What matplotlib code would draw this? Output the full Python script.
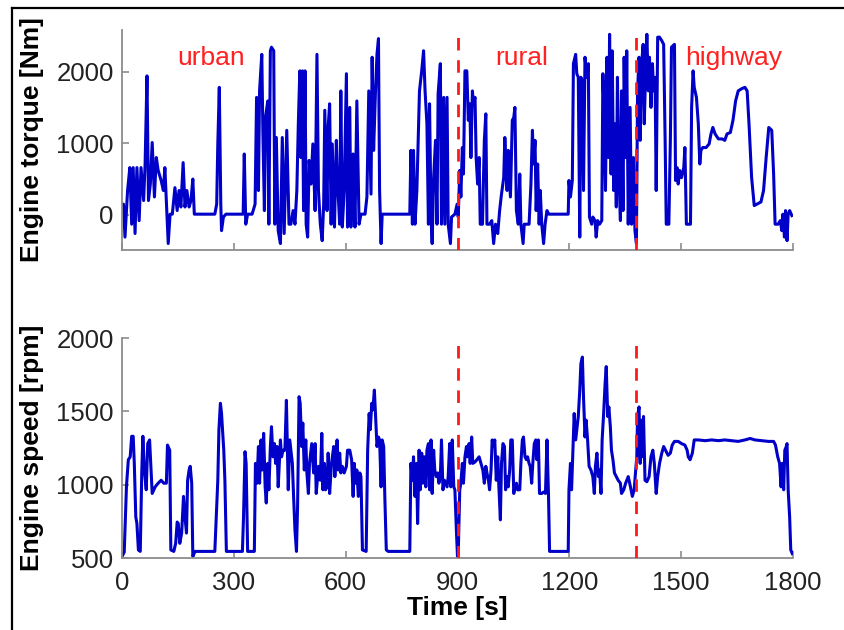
import numpy as np
import matplotlib
matplotlib.use('Agg')
import matplotlib.pyplot as plt
from matplotlib.lines import Line2D

plt.rcParams['font.family'] = ['Liberation Sans', 'DejaVu Sans']

# engine torque [Nm] over time [s]
torque_time = [0, 4, 8, 15, 21, 26, 30, 35, 40, 46, 51, 58, 62, 67, 71, 76, 81, 87, 92, 97,
               105, 111, 115, 120, 124, 129, 135, 142, 148, 153, 158, 164, 169, 174, 180, 185, 190, 194,
               249, 254, 257, 261, 265, 267, 272, 279, 325, 328, 332, 337, 349, 357, 361, 366, 369,
               375, 378, 382, 385, 391, 394, 398, 401, 407, 410, 414, 419, 425, 430, 435, 442, 448,
               453, 459, 464, 469, 473, 477, 480, 484, 487, 491, 494, 498, 502, 507, 512, 518, 523,
               527, 532, 537, 541, 544, 550, 553, 557, 561, 564, 570, 575, 578, 584, 587, 591, 596,
               602, 605, 611, 614, 620, 625, 630, 636, 641, 652, 657, 662, 668, 671, 675, 680, 684,
               688, 691, 695, 698, 772, 775, 779, 782, 786, 791, 798, 804, 809, 813, 818, 822, 825,
               829, 832, 836, 841, 845, 848, 854, 857, 863, 866, 872, 875, 881, 884, 893, 899,
               902, 906, 909, 913, 916, 920, 925, 929, 933, 936, 940, 943, 947, 950, 954, 958, 961,
               967, 972, 976, 979, 986, 992, 997, 1002, 1008, 1013, 1018, 1024, 1027, 1033, 1036,
               1042, 1047, 1051, 1054, 1058, 1063, 1067, 1070, 1076, 1079, 1092, 1097, 1101, 1104,
               1108, 1111, 1115, 1119, 1122, 1126, 1131, 1135, 1140, 1145, 1197, 1199, 1203, 1208,
               1211, 1217, 1220, 1224, 1228, 1231, 1235, 1238, 1242, 1247, 1251, 1254, 1260, 1263,
               1269, 1272, 1276, 1281, 1287, 1290, 1294, 1297, 1301, 1305, 1308, 1312, 1315, 1319,
               1322, 1326, 1329, 1333, 1337, 1340, 1344, 1347, 1351, 1354, 1358, 1363, 1367, 1372,
               1376, 1380, 1383, 1387, 1390, 1394, 1398, 1401, 1405, 1408, 1412, 1415, 1419, 1423,
               1426, 1430, 1433, 1437, 1442, 1448, 1453, 1457, 1460, 1467, 1471, 1474, 1482, 1485,
               1489, 1492, 1496, 1501, 1507, 1510, 1514, 1525, 1528, 1532, 1535, 1541, 1546, 1550,
               1553, 1558, 1567, 1575, 1580, 1585, 1591, 1600, 1610, 1617, 1623, 1632, 1639, 1646,
               1653, 1662, 1671, 1677, 1682, 1689, 1696, 1703, 1714, 1721, 1728, 1735, 1743, 1748,
               1752, 1760, 1766, 1770, 1773, 1777, 1780, 1784, 1787, 1791, 1797]
torque_nm = [100, 150, -310, 340, 660, -130, 660, -260, 660, -80, 660, 200, 710, 1940, 200, 430, 1010, 250, 800, 620,
             480, 340, 660, 60, -400, 10, 10, 380, 60, 340, 110, 730, 110, 340, 110, 200, 500, 10,
             10, 150, 990, 1780, 150, -220, -30, 10, 10, 850, -130, 10, 10, 150, 1640, 340, 1730,
             2240, 1130, 60, 1360, 1590, -130, 2290, 2340, 2290, -130, 1080, -220, -400, 1080, -260, 1180, -130,
             -130, 60, -130, 340, 1270, 2010, 800, 2010, 60, 2010, -130, -310, 760, 430, 990, 60, 2240,
             340, -130, -360, 150, 1460, 60, 1220, 1550, -130, 990, -170, 1040, 480, -130, 1730, -170, 340,
             1970, -170, 1500, -170, 850, -170, 1590, -130, 10, 10, 250, 1730, 290, 2200, 900, 1730, 2240,
             2460, 340, -400, 10, 10, 900, -130, 900, -130, 340, 1730, 2010, 2290, 1730, 1270, -130, 1550,
             -30, -400, 520, 1040, -130, 1690, 2110, -130, 1640, -130, 1640, -130, -400, -30, 10, 150,
             -30, 620, 250, 940, 570, 2010, 2010, 1320, 1550, 800, 1730, 1550, 1640, 800, 430, 800, -130,
             -130, 1040, 1410, -130, -130, -80, -400, -130, -260, 60, 290, 520, 1080, 340, 900,
             250, 1320, 1360, 1500, 60, -130, 570, -130, -400, -130, -130, 430, 1180, 710,
             1040, 60, 710, -130, 340, -130, -400, -130, 60, 10, 10, 480, 250, 480,
             2110, 2240, 1970, 1920, -310, 1920, 1870, 340, 2200, 1920, 2110, -30, -130, -30,
             -80, -310, -80, -130, -80, 1970, 1270, 340, 2200, 800, 2520, 570, 2290, 340,
             1270, 110, 1920, 570, -80, 1730, 60, 2200, 800, 2290, -130, 1500, -130, 800,
             -220, -400, 1730, 2200, 1040, 2110, 2380, 1270, 2060, 2520, 1730, 2200, 1500, 2110,
             1730, 1920, 340, 2480, 2480, 2430, 2380, 1040, -130, -130, 1040, 2340, 2380, 480,
             660, 430, 620, 520, 660, 940, -130, -130, 1500, 2010, 1780, 1640, 1270, 710,
             900, 940, 940, 990, 1130, 1220, 1130, 1060, 1060, 1040, 1130, 1150, 1320, 1590,
             1730, 1760, 1780, 1730, 1270, 520, 130, 150, 180, 340, 800, 1220, 1180, 570,
             -130, -130, -80, -220, 10, -310, 60, -360, 10, 60, -10]

# engine speed [rpm] over time [s]
speed_time = [0, 6, 12, 17, 22, 26, 30, 33, 37, 40, 44, 49, 53, 56, 60, 65, 69, 74, 78, 81,
              89, 97, 105, 112, 119, 122, 128, 131, 139, 144, 148, 151, 155, 160, 165, 169, 173, 176,
              180, 183, 187, 190, 196, 249, 253, 257, 260, 264, 267, 273, 276, 280, 323, 326, 330,
              333, 337, 355, 358, 362, 366, 369, 373, 376, 380, 384, 387, 391, 394, 398, 401, 405,
              409, 412, 416, 419, 425, 428, 432, 437, 441, 446, 450, 453, 457, 460, 464, 468, 471,
              475, 478, 482, 485, 489, 493, 496, 500, 503, 509, 514, 518, 521, 527, 532, 536, 539,
              543, 546, 550, 553, 557, 562, 568, 571, 577, 580, 584, 587, 591, 596, 602, 605, 611,
              616, 620, 623, 627, 630, 634, 638, 641, 645, 655, 659, 663, 666, 670, 673, 677, 680,
              684, 688, 691, 695, 698, 702, 705, 709, 714, 772, 775, 779, 782, 786, 790, 793, 797,
              800, 804, 807, 811, 815, 818, 822, 825, 829, 832, 836, 839, 843, 847, 850, 854, 857,
              861, 865, 868, 872, 875, 879, 882, 886, 890, 893, 897, 900, 902, 906, 909, 913, 916,
              920, 924, 927, 931, 934, 938, 941, 947, 952, 958, 963, 968, 972, 976, 979, 983, 986,
              990, 993, 997, 1000, 1004, 1008, 1011, 1015, 1018, 1022, 1026, 1029, 1033, 1036, 1040,
              1043, 1047, 1051, 1054, 1058, 1061, 1067, 1070, 1074, 1077, 1081, 1085, 1088, 1092,
              1095, 1099, 1102, 1106, 1110, 1113, 1117, 1120, 1126, 1131, 1136, 1140, 1144, 1147,
              1197, 1199, 1203, 1206, 1210, 1213, 1217, 1220, 1224, 1228, 1231, 1235, 1238, 1242,
              1245, 1249, 1253, 1258, 1263, 1267, 1270, 1274, 1278, 1281, 1285, 1288, 1292, 1296,
              1299, 1303, 1306, 1310, 1313, 1317, 1321, 1326, 1331, 1337, 1340, 1346, 1351, 1358,
              1364, 1369, 1374, 1378, 1381, 1383, 1387, 1390, 1394, 1398, 1399, 1403, 1408, 1414,
              1419, 1424, 1428, 1433, 1437, 1442, 1448, 1453, 1458, 1465, 1471, 1476, 1482, 1492,
              1501, 1510, 1516, 1519, 1524, 1530, 1535, 1546, 1564, 1582, 1600, 1617, 1635, 1653,
              1671, 1685, 1698, 1716, 1734, 1748, 1753, 1759, 1764, 1768, 1771, 1775, 1778, 1782,
              1784, 1787, 1791, 1794, 1798]
speed_rpm = [510, 540, 990, 1170, 1190, 1330, 1330, 1145, 780, 735, 555, 545, 1080, 1330, 1100, 965, 1280, 1305, 1100, 940,
             985, 1010, 1030, 1010, 1010, 1270, 1235, 555, 545, 600, 745, 735, 600, 670, 920, 780, 670, 1030,
             1100, 1125, 1010, 510, 545, 545, 780, 1030, 1375, 1555, 1485, 1235, 1030, 545, 545, 780, 1225,
             1145, 545, 545, 1145, 1010, 1260, 1010, 1305, 1100, 1350, 985, 875, 1145, 965, 1260, 1395, 1190,
             1280, 1145, 1260, 985, 1305, 1190, 1235, 1235, 1575, 965, 1305, 1235, 1145, 940, 690, 545, 850,
             1600, 1555, 1260, 1420, 1100, 1305, 1080, 940, 1145, 1280, 1080, 1280, 940, 1125, 1030, 1350, 965,
             1145, 965, 985, 1215, 940, 1145, 1260, 1055, 1305, 1100, 1215, 1080, 1125, 1080, 1125, 1235, 1235,
             1170, 920, 1145, 1010, 1100, 920, 1080, 1055, 555, 545, 1235, 1485, 1375, 1555, 1510, 1645, 1485,
             1260, 1325, 1305, 985, 1305, 1260, 920, 555, 545, 545, 1145, 1030, 1190, 920, 1145, 735, 1235,
             965, 1215, 1010, 1190, 985, 1235, 1280, 965, 1305, 940, 1235, 1100, 1055, 1080, 1010, 1055, 1305,
             965, 1030, 1010, 985, 1055, 1280, 985, 1305, 985, 965, 690, 510, 530, 965, 1010, 1145, 1010,
             1190, 1260, 1190, 1280, 1145, 1325, 1145, 1155, 1170, 1190, 1145, 1100, 1010, 1125, 1080, 1030, 965,
             1100, 1305, 1260, 1305, 1030, 1190, 985, 760, 1145, 1280, 1260, 965, 1055, 985, 1100,
             1305, 1305, 940, 985, 1010, 965, 965, 1145, 1305, 1325, 1190, 1170, 1190, 1145,
             1125, 1010, 1145, 1280, 1305, 1170, 1305, 940, 940, 950, 940, 1305, 940, 545,
             545, 965, 1145, 965, 1260, 1485, 1305, 1375, 1465, 1645, 1825, 1870, 1600, 1325,
             1440, 1305, 1125, 1100, 1055, 940, 1125, 1215, 1055, 1100, 940, 1305, 1485, 1690,
             1805, 1465, 1530, 1395, 1235, 1170, 1080, 1055, 1030, 1010, 940, 965, 1010, 1055,
             985, 920, 965, 1100, 1190, 1465, 1530, 1145, 1440, 1190, 1465, 1030, 1020, 1055,
             1190, 1235, 1145, 940, 1055, 1145, 1215, 1260, 1235, 1200, 1215, 1270, 1295, 1295,
             1280, 1270, 1235, 1190, 1170, 1215, 1305, 1305, 1300, 1305, 1300, 1305, 1300, 1295,
             1305, 1315, 1305, 1300, 1295, 1295, 1270, 1190, 1145, 985, 1145, 965, 1235, 1260,
             1280, 965, 780, 555, 530]

x_ticks = [0, 300, 600, 900, 1200, 1500, 1800]
torque_ticks = [0, 1000, 2000]
speed_ticks = [500, 1000, 1500, 2000]
phase_bounds = [900, 1380]
phase_names = ['urban', 'rural', 'highway']
phase_label_x = [240, 1072, 1642]

line_blue = '#0000c8'
axis_gray = '#8c8c8c'

fig = plt.figure(figsize=(8.44, 6.30), dpi=100)
ax1 = fig.add_axes([122/844, 1-250/630, 671/844, 220/630])
ax2 = fig.add_axes([122/844, 1-558/630, 671/844, 220/630])

def style_axis(ax):
    for s in ['top', 'right']:
        ax.spines[s].set_visible(False)
    for s in ['left', 'bottom']:
        ax.spines[s].set_color(axis_gray)
        ax.spines[s].set_linewidth(1.3)
    ax.tick_params(direction='in', length=5, width=1.2, color=axis_gray,
                   labelsize=18.5, labelcolor='#222222', pad=6)
    ax.set_xlim(0, 1800)
    ax.set_xticks(x_ticks)

# top: torque
ax1.plot(torque_time, torque_nm, color=line_blue, lw=2.2, zorder=2)
ax1.set_ylim(-490, 2580)
ax1.set_yticks(torque_ticks)
style_axis(ax1)
ax1.set_xticklabels([])
for xb in phase_bounds:
    ax1.plot([xb, xb], [-490, 2500], color='#ff1a1a', lw=2.0, dashes=(4.5, 3.5), zorder=3)
for name, xl in zip(phase_names, phase_label_x):
    ax1.text(xl, 2190, name, color='#ff2020', fontsize=19, ha='center', va='center')
ax1.set_ylabel('Engine torque [Nm]', fontsize=19, fontweight='bold')
ax1.yaxis.set_label_coords(-0.116, 0.5)

# bottom: speed
ax2.plot(speed_time, speed_rpm, color=line_blue, lw=2.2, zorder=2)
ax2.set_ylim(500, 2000)
ax2.set_yticks(speed_ticks)
style_axis(ax2)
ax2.tick_params(axis='x', pad=9)
for xb in phase_bounds:
    ax2.plot([xb, xb], [500, 1960], color='#ff1a1a', lw=2.0, dashes=(4.5, 3.5), zorder=3)
ax2.set_ylabel('Engine speed [rpm]', fontsize=19, fontweight='bold')
ax2.yaxis.set_label_coords(-0.116, 0.5)
ax2.set_xlabel('Time [s]', fontsize=19, fontweight='bold', labelpad=1)

# frame lines (left and top) of the original figure
fig.add_artist(Line2D([12/844, 12/844], [0, 1-8/630], transform=fig.transFigure, color='black', lw=1.6))
fig.add_artist(Line2D([12/844, 1], [1-8/630, 1-8/630], transform=fig.transFigure, color='black', lw=1.6))

fig.savefig('out.png', dpi=100, facecolor='white')
